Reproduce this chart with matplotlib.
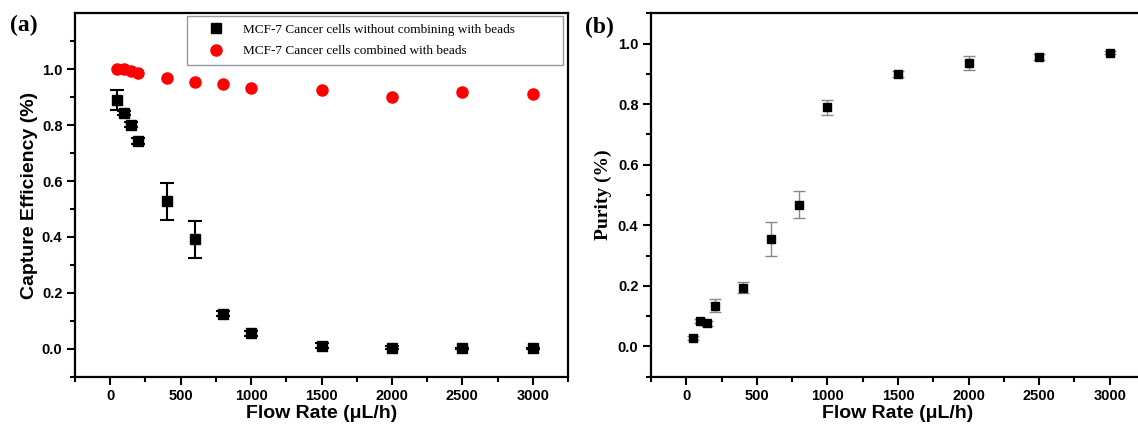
import numpy as np
import matplotlib
matplotlib.use('Agg')
import matplotlib.pyplot as plt
from matplotlib.ticker import MultipleLocator, FixedLocator, FormatStrFormatter

# Flow rates (uL/h), shared by both panels
flow_rate = [50, 100, 150, 200, 400, 600, 800, 1000, 1500, 2000, 2500, 3000]

# Panel (a): capture efficiency
eff_no_beads = [0.890, 0.843, 0.802, 0.744, 0.527, 0.391, 0.126, 0.055, 0.011, 0.004, 0.001, 0.001]
eff_no_beads_err = [0.037, 0.008, 0.008, 0.010, 0.065, 0.066, 0.008, 0.008, 0.008, 0.006, 0.003, 0.003]
eff_beads = [1.000, 1.000, 0.994, 0.985, 0.970, 0.953, 0.946, 0.932, 0.924, 0.899, 0.917, 0.913]

# Panel (b): purity
purity = [0.028, 0.084, 0.077, 0.135, 0.194, 0.354, 0.468, 0.789, 0.900, 0.936, 0.957, 0.969]
purity_err = [0.008, 0.008, 0.008, 0.022, 0.018, 0.057, 0.045, 0.025, 0.010, 0.022, 0.010, 0.005]

label_no_beads = "MCF-7 Cancer cells without combining with beads"
label_beads = "MCF-7 Cancer cells combined with beads"

SANS = "Liberation Sans"
SERIF = "Liberation Serif"

W, H = 1138, 426
fig = plt.figure(figsize=(W / 100, H / 100), dpi=100)


def px_axes(left, top, right, bottom):
    return fig.add_axes([left / W, 1 - bottom / H, (right - left) / W, (bottom - top) / H])


def style_axes(ax, ymin, ymax):
    ax.set_xlim(-250, 3250)
    ax.set_ylim(ymin, ymax)
    ax.xaxis.set_major_locator(MultipleLocator(500))
    ax.xaxis.set_minor_locator(MultipleLocator(250))
    # labelled ticks only from 0.0 to 1.0
    ax.yaxis.set_major_locator(FixedLocator([0.0, 0.2, 0.4, 0.6, 0.8, 1.0]))
    ax.yaxis.set_minor_locator(FixedLocator([-0.1, 0.1, 0.3, 0.5, 0.7, 0.9, 1.1]))
    ax.tick_params(which='both', direction='out', width=1.5, top=False, right=False)
    ax.tick_params(which='major', length=6, pad=3)
    ax.tick_params(which='minor', length=3.5)
    for sp in ax.spines.values():
        sp.set_linewidth(1.6)
    ax.yaxis.set_major_formatter(FormatStrFormatter('%.1f'))
    for lab in ax.get_xticklabels() + ax.get_yticklabels():
        lab.set_fontfamily(SANS)
        lab.set_fontweight('bold')
        lab.set_fontsize(10.5)
    ax.set_xlabel(u"Flow Rate (\u03bcL/h)", fontfamily=SANS, fontweight='bold', fontsize=14, labelpad=1)


# ---- panel (a)
ax1 = px_axes(75, 13.3, 568, 376.7)
ax1.errorbar(flow_rate, eff_no_beads, yerr=eff_no_beads_err, fmt='none', ecolor='black',
             elinewidth=1.5, capsize=5, capthick=1.5, zorder=2)
blk, = ax1.plot(flow_rate, eff_no_beads, 's', color='black', ms=7.5, zorder=3)
red, = ax1.plot(flow_rate, eff_beads, 'o', color='#ff0000', ms=8, zorder=3)
style_axes(ax1, -0.1, 1.2)
ax1.set_ylabel("Capture Efficiency (%)", fontfamily=SANS, fontweight='bold', fontsize=14, labelpad=3)

leg = ax1.legend([blk, red], [label_no_beads, label_beads], loc='upper left',
                 bbox_to_anchor=(0.228, 0.993, 0.762, 0.0), mode='expand',
                 prop={'family': SERIF, 'size': 9.5}, frameon=True,
                 fancybox=False, edgecolor='#999999', framealpha=1, borderpad=0.6,
                 labelspacing=0.7, handlelength=3.2, handletextpad=0.4, borderaxespad=0)
leg.get_frame().set_linewidth(1.0)

fig.text(10 / W, 1 - 25 / H, "(a)", fontfamily=SERIF, fontweight='bold', fontsize=17, va='center')

# ---- panel (b)
ax2 = px_axes(651, 13.3, 1145, 376.7)
ax2.errorbar(flow_rate, purity, yerr=purity_err, fmt='none', ecolor='#888888',
             elinewidth=1.0, capsize=4.5, capthick=1.0, zorder=2)
ax2.plot(flow_rate, purity, 's', color='black', ms=6, zorder=3)
style_axes(ax2, -0.1, 1.1)
ax2.set_ylabel("Purity (%)", fontfamily=SERIF, fontweight='bold', fontsize=14, labelpad=4)

fig.text(585 / W, 1 - 27 / H, "(b)", fontfamily=SERIF, fontweight='bold', fontsize=17, va='center')

fig.savefig("out.png", dpi=100)
